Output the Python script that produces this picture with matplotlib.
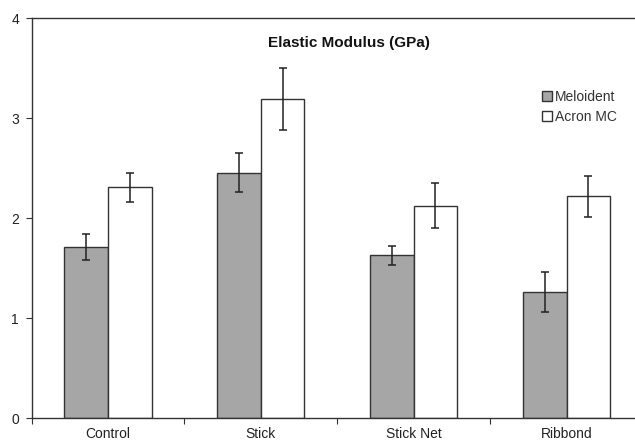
import matplotlib
matplotlib.use("Agg")
import matplotlib.pyplot as plt
import numpy as np

plt.rcParams['font.family'] = ['Liberation Sans', 'DejaVu Sans']

categories = ["Control", "Stick", "Stick Net", "Ribbond"]
meloident = [1.71, 2.455, 1.63, 1.26]
meloident_err = [0.13, 0.195, 0.095, 0.20]
acron = [2.31, 3.19, 2.125, 2.22]
acron_err = [0.145, 0.31, 0.225, 0.205]
yticks = [0, 1, 2, 3, 4]

W, H = 635, 441
fig = plt.figure(figsize=(W/100, H/100), dpi=100)
left, right = 31.5, 643.0
bottom, top = 418.0, 18.3
ax = fig.add_axes([left/W, 1-bottom/H, (right-left)/W, (bottom-top)/H])

x = np.arange(len(categories)) + 0.5
bw = 0.285
ekw = dict(elinewidth=1.1, capthick=1.1, ecolor='#222222')
ax.bar(x - bw/2, meloident, bw, yerr=meloident_err, capsize=3, color='#a6a6a6',
       edgecolor='#333333', linewidth=1.0, label='Meloident', error_kw=ekw)
ax.bar(x + bw/2, acron, bw, yerr=acron_err, capsize=3, color='white',
       edgecolor='#333333', linewidth=1.0, label='Acron MC', error_kw=ekw)

ax.set_xlim(0, len(categories))
ax.set_ylim(0, 4)
ax.set_yticks(yticks)
ax.set_xticks(np.arange(len(categories) + 1))
ax.set_xticklabels([])
ax.set_xticks(x, minor=True)
ax.set_xticklabels(categories, minor=True)
ax.tick_params(axis='x', which='minor', length=0, pad=6.5, labelsize=10, colors='#222222')
ax.tick_params(axis='x', which='major', length=4, direction='out', color='#333333')
ax.tick_params(axis='y', length=4, direction='out', pad=5, labelsize=10, color='#333333', labelcolor='#222222')
ax.spines['right'].set_visible(False)
for s in ['left', 'bottom', 'top']:
    ax.spines[s].set_color('#333333')
    ax.spines[s].set_linewidth(1.0)

fig.text(349/W, 1-43/H, "Elastic Modulus (GPa)", ha='center', va='center',
         fontsize=11, fontweight='bold', color='#111111')

leg = ax.legend(loc='upper left', bbox_to_anchor=((542-left)/(right-left), 1-(90-top)/(bottom-top)),
                frameon=False, fontsize=10, handlelength=0.7, handleheight=0.7,
                handletextpad=0.25, labelspacing=0.4, borderaxespad=0, borderpad=0)
for t in leg.get_texts():
    t.set_color('#333333')

fig.savefig("out.png", dpi=100)
